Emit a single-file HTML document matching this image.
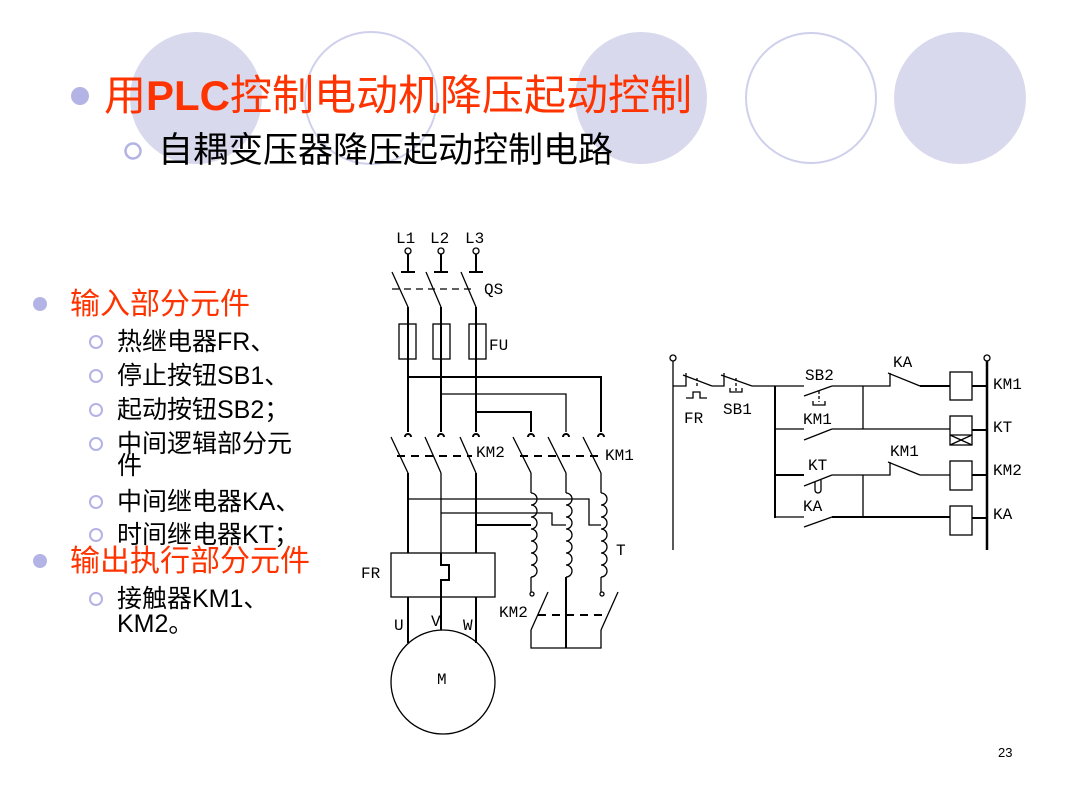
<!DOCTYPE html>
<html><head><meta charset="utf-8"><style>
html,body{margin:0;padding:0;background:#fff;}
#s{position:relative;width:1080px;height:810px;overflow:hidden;font-family:"Liberation Sans","Noto Sans CJK SC",sans-serif;}
.t{position:absolute;white-space:nowrap;}
.i{position:absolute;left:117px;font-size:25px;line-height:30px;color:#000;white-space:nowrap;}
</style></head><body><div id="s">
<svg width="1080" height="810" style="position:absolute;left:0;top:0">
<circle cx="196" cy="98" r="66" fill="#d9d9ee"/>
<circle cx="371" cy="98" r="66" fill="none" stroke="#cfd0ec" stroke-width="2"/>
<circle cx="641" cy="98" r="66" fill="#d9d9ee"/>
<circle cx="811" cy="98" r="65" fill="none" stroke="#cfd0ec" stroke-width="2"/>
<circle cx="960" cy="98" r="66" fill="#d9d9ee"/>
<circle cx="80" cy="96" r="9" fill="#b3b3e6"/>
<circle cx="133" cy="151" r="7.5" fill="none" stroke="#b3b3e6" stroke-width="2.5"/>
<circle cx="40" cy="304" r="7" fill="#b3b3e6"/>
<circle cx="40" cy="561" r="7" fill="#b3b3e6"/>
<g fill="none" stroke="#b3b3e6" stroke-width="2">
<circle cx="96" cy="342" r="6"/><circle cx="96" cy="376" r="6"/><circle cx="96" cy="410" r="6"/><circle cx="96" cy="444" r="6"/><circle cx="96" cy="502" r="6"/><circle cx="96" cy="535" r="6"/><circle cx="96" cy="599" r="6"/>
</g>
<g stroke="#000" fill="none" stroke-width="1.3" font-family="Liberation Mono,monospace" font-size="16">
<g stroke-width="2">
<line x1="408" y1="254" x2="408" y2="272"/><line x1="441" y1="254" x2="441" y2="272"/><line x1="476" y1="254" x2="476" y2="272"/>
<line x1="401" y1="272" x2="415" y2="272"/><line x1="434" y1="272" x2="448" y2="272"/><line x1="469" y1="272" x2="483" y2="272"/>
</g>
<circle cx="408" cy="251" r="3"/><circle cx="441" cy="251" r="3"/><circle cx="476" cy="251" r="3"/>
<line x1="392" y1="272" x2="408" y2="307"/><line x1="426" y1="272" x2="441" y2="307"/><line x1="461" y1="272" x2="476" y2="307"/>
<line x1="392" y1="289" x2="472" y2="289" stroke-dasharray="7,5"/>
<g stroke-width="2">
<line x1="408" y1="307" x2="408" y2="432"/><line x1="441" y1="307" x2="441" y2="432"/><line x1="476" y1="307" x2="476" y2="432"/>
</g>
<rect x="399" y="324" width="17" height="35"/><rect x="433" y="324" width="17" height="35"/><rect x="469" y="324" width="17" height="35"/>
<polyline points="408,377 601,377 601,432" stroke-width="2"/>
<polyline points="441,394 566,394 566,432"/>
<polyline points="476,412 531,412 531,432" stroke-width="2"/>
<g stroke-width="2">
<path d="M405,437 a3,3 0 0 1 6,0"/><path d="M438,437 a3,3 0 0 1 6,0"/><path d="M473,437 a3,3 0 0 1 6,0"/>
<path d="M528,437 a3,3 0 0 1 6,0"/><path d="M563,437 a3,3 0 0 1 6,0"/><path d="M598,437 a3,3 0 0 1 6,0"/>
</g>
<line x1="391" y1="437" x2="408" y2="473"/><line x1="425" y1="437" x2="441" y2="473"/><line x1="460" y1="437" x2="476" y2="473"/>
<line x1="513" y1="437" x2="531" y2="473"/><line x1="548" y1="437" x2="566" y2="473"/><line x1="583" y1="437" x2="601" y2="473"/>
<line x1="397" y1="456" x2="472" y2="456" stroke-dasharray="8,6" stroke-width="2"/>
<line x1="520" y1="456" x2="598" y2="456" stroke-dasharray="8,6" stroke-width="2"/>
<line x1="408" y1="473" x2="408" y2="553" stroke-width="2"/><line x1="441" y1="473" x2="441" y2="553"/><line x1="476" y1="473" x2="476" y2="553" stroke-width="2"/>
<line x1="531" y1="473" x2="531" y2="493"/><line x1="566" y1="473" x2="566" y2="493"/><line x1="601" y1="473" x2="601" y2="493"/>
<polyline points="408,499 589,499 589,525 601,525"/>
<polyline points="441,513 552,513 552,525 566,525"/>
<polyline points="476,525 531,525" stroke-width="2"/>
<path d="M531,493 a6,6 0 0 1 0,12 a6,6 0 0 1 0,12 a6,6 0 0 1 0,12 a6,6 0 0 1 0,12 a6,6 0 0 1 0,12 a6,6 0 0 1 0,12 a6,6 0 0 1 0,12"/>
<path d="M566,493 a6,6 0 0 1 0,12 a6,6 0 0 1 0,12 a6,6 0 0 1 0,12 a6,6 0 0 1 0,12 a6,6 0 0 1 0,12 a6,6 0 0 1 0,12 a6,6 0 0 1 0,12"/>
<path d="M601,493 a6,6 0 0 1 0,12 a6,6 0 0 1 0,12 a6,6 0 0 1 0,12 a6,6 0 0 1 0,12 a6,6 0 0 1 0,12 a6,6 0 0 1 0,12 a6,6 0 0 1 0,12"/>
<line x1="531" y1="577" x2="531" y2="592"/><line x1="566" y1="577" x2="566" y2="648" stroke-width="2"/><line x1="601" y1="577" x2="601" y2="592"/>
<circle cx="532" cy="594" r="2"/><circle cx="602" cy="594" r="2"/>
<line x1="548" y1="592" x2="531" y2="630"/><line x1="618" y1="592" x2="601" y2="630"/>
<line x1="538" y1="615" x2="608" y2="615" stroke-dasharray="8,6" stroke-width="2"/>
<polyline points="531,630 531,648 601,648 601,630"/>
<rect x="391" y="553" width="104" height="44"/>
<polyline points="441,553 441,565 449,565 449,580 441,580 441,597" stroke-width="2"/>
<line x1="408" y1="597" x2="408" y2="643" stroke-width="2"/><line x1="441" y1="597" x2="441" y2="630" stroke-width="2"/><line x1="476" y1="597" x2="476" y2="643" stroke-width="2"/>
<circle cx="443" cy="682" r="52"/>
<circle cx="673" cy="358" r="3"/><line x1="673" y1="361" x2="673" y2="550"/>
<circle cx="987" cy="358" r="3"/><line x1="987" y1="361" x2="987" y2="550" stroke-width="2.5"/>
<polyline points="673,386 686,386 686,373"/>
<line x1="683" y1="375" x2="712" y2="386"/><line x1="697" y1="378" x2="697" y2="386" stroke-dasharray="3,2"/>
<polyline points="686,398 693,398 693,392 700,392 700,398 707,398"/>
<polyline points="712,386 724,386 724,373"/>
<line x1="721" y1="375" x2="752" y2="386"/><line x1="736" y1="378" x2="736" y2="391" stroke-dasharray="3,2"/>
<polyline points="730,388 730,392 742,392 742,388"/>
<line x1="752" y1="386" x2="804" y2="386"/>
<line x1="775" y1="386" x2="775" y2="518" stroke-width="2"/>
<line x1="804" y1="396" x2="832" y2="386"/><line x1="819" y1="391" x2="819" y2="402" stroke-dasharray="3,2"/>
<polyline points="813,401 813,405 825,405 825,401"/>
<polyline points="832,386 890,386 890,373"/><line x1="888" y1="373" x2="920" y2="386"/>
<line x1="920" y1="386" x2="950" y2="386" stroke-width="2"/>
<rect x="950" y="372" width="22" height="28"/><line x1="972" y1="386" x2="987" y2="386" stroke-width="2"/>
<line x1="863" y1="386" x2="863" y2="429"/>
<line x1="775" y1="429" x2="804" y2="429"/><line x1="804" y1="440" x2="832" y2="429"/>
<line x1="832" y1="429" x2="950" y2="429"/>
<rect x="950" y="416" width="22" height="29"/><line x1="950" y1="435" x2="972" y2="435"/><line x1="950" y1="435" x2="972" y2="445"/><line x1="972" y1="435" x2="950" y2="445"/>
<line x1="972" y1="430" x2="987" y2="430" stroke-width="2"/>
<line x1="775" y1="475" x2="804" y2="475" stroke-width="2"/><line x1="804" y1="486" x2="832" y2="475"/>
<path d="M815,482 v8 a3,3 0 0 0 6,0 v-10"/>
<polyline points="832,475 890,475 890,462"/><line x1="888" y1="462" x2="920" y2="475"/>
<line x1="920" y1="475" x2="950" y2="475"/>
<rect x="950" y="461" width="22" height="29"/><line x1="972" y1="475" x2="987" y2="475" stroke-width="2"/>
<line x1="863" y1="475" x2="863" y2="517"/>
<line x1="775" y1="517" x2="804" y2="517"/><line x1="804" y1="527" x2="832" y2="517"/>
<line x1="832" y1="517" x2="950" y2="517" stroke-width="2"/>
<rect x="950" y="506" width="22" height="29"/><line x1="972" y1="518" x2="987" y2="518" stroke-width="2"/>
<g stroke="none" fill="#000">
<text x="396" y="243">L1</text><text x="430" y="243">L2</text><text x="465" y="243">L3</text>
<text x="484" y="294">QS</text><text x="489" y="350">FU</text>
<text x="476" y="457">KM2</text><text x="605" y="460">KM1</text>
<text x="616" y="555">T</text><text x="499" y="617">KM2</text>
<text x="361" y="578">FR</text><text x="394" y="630">U</text><text x="431" y="626">V</text><text x="463" y="630">W</text>
<text x="437" y="684">M</text>
<text x="684" y="423">FR</text><text x="723" y="414">SB1</text>
<text x="805" y="380">SB2</text><text x="893" y="367">KA</text>
<text x="803" y="424">KM1</text><text x="808" y="470">KT</text><text x="890" y="456">KM1</text><text x="803" y="511">KA</text>
<text x="993" y="389">KM1</text><text x="993" y="432">KT</text><text x="993" y="475">KM2</text><text x="993" y="519">KA</text>
</g>
</g>
</svg>
<div class="t" style="left:104px;top:72px;font-size:42px;color:#ff3300;line-height:48px">用<b>PLC</b>控制电动机降压起动控制</div>
<div class="t" style="left:158px;top:130px;font-size:35px;color:#000;line-height:42px">自耦变压器降压起动控制电路</div>
<div class="t" style="left:70px;top:288px;font-size:30px;color:#ff3300;line-height:34px">输入部分元件</div>
<div class="i" style="top:327px">热继电器FR、</div>
<div class="i" style="top:361px">停止按钮SB1、</div>
<div class="i" style="top:395px">起动按钮SB2；</div>
<div class="i" style="top:429px">中间逻辑部分元</div>
<div class="i" style="top:451px">件</div>
<div class="i" style="top:487px">中间继电器KA、</div>
<div class="i" style="top:520px">时间继电器KT；</div>
<div class="t" style="left:70px;top:545px;font-size:30px;color:#ff3300;line-height:34px">输出执行部分元件</div>
<div class="i" style="top:584px">接触器KM1、</div>
<div class="i" style="top:609px">KM2。</div>
<div class="t" style="left:998px;top:745px;font-size:13px;color:#000">23</div>
</div></body></html>
